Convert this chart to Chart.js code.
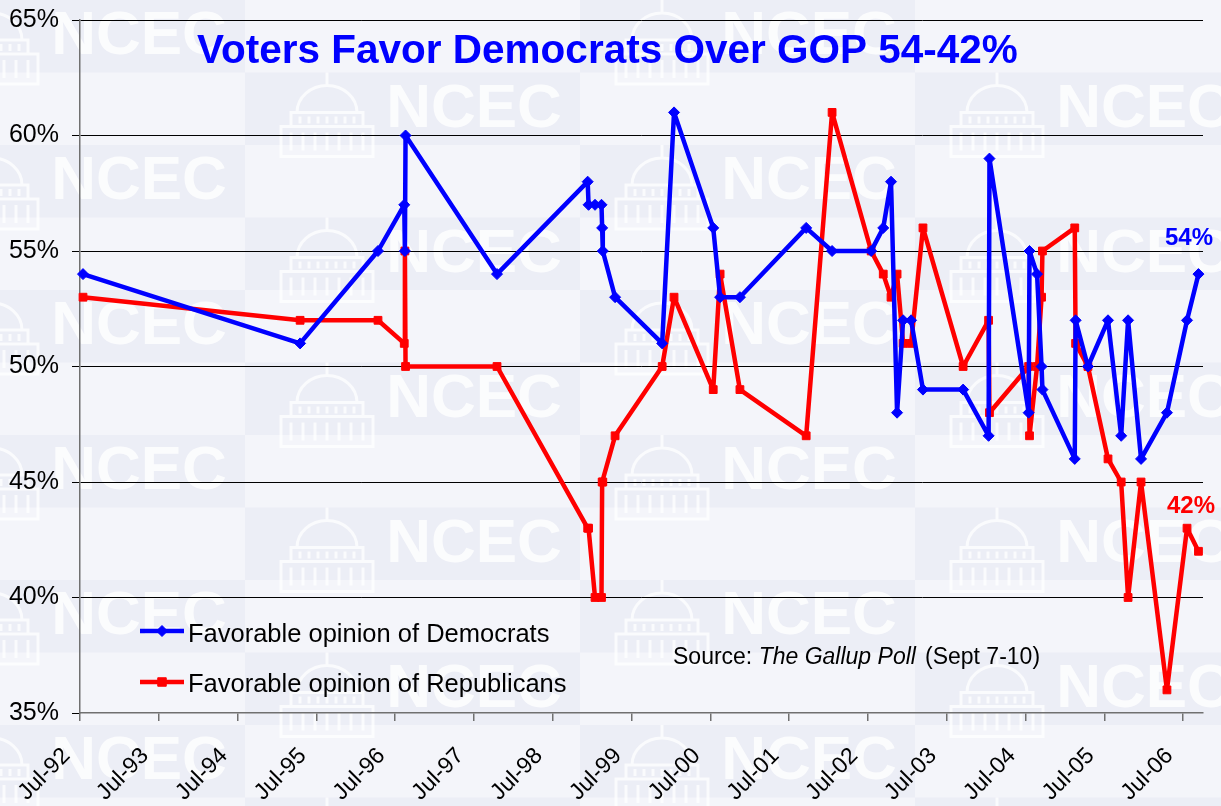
<!DOCTYPE html>
<html>
<head>
<meta charset="utf-8">
<title>Voters Favor Democrats Over GOP 54-42%</title>
<script src="https://cdn.jsdelivr.net/npm/chart.js@4.4.1/dist/chart.umd.min.js"></script>
<style>
  html, body { margin: 0; padding: 0; background: #f4f5fa; }
  #wrap { width: 1221px; height: 806px; }
</style>
</head>
<body>
<div id="wrap"><canvas id="pollChart" width="1221" height="806"></canvas></div>
<script>
// Datas das pesquisas Gallup (as duas séries usam as mesmas datas)
const pollDates = [
    '1992-07-15', '1995-04-17', '1996-04-12', '1996-08-12', '1996-08-15', '1996-08-18', '1997-10-16',
    '1998-12-10', '1998-12-14', '1999-01-13', '1999-02-12', '1999-02-15', '1999-02-18', '1999-04-16',
    '1999-11-20', '2000-01-14', '2000-07-14', '2000-08-15', '2000-11-15', '2001-09-18', '2002-01-16',
    '2002-07-16', '2002-09-10', '2002-10-16', '2002-11-13', '2002-12-11', '2003-01-17', '2003-03-13',
    '2003-09-15', '2004-01-11', '2004-01-15', '2004-07-15', '2004-07-19', '2004-08-23', '2004-09-13',
    '2004-09-17', '2005-02-14', '2005-02-18', '2005-04-16', '2005-07-18', '2005-09-17', '2005-10-19',
    '2005-12-18', '2006-04-17', '2006-07-19', '2006-09-10'
];

// Opinião favorável dos democratas (%)
const demValues = [
    54, 51, 55, 57, 55, 60, 54,
    58, 57, 57, 57, 56, 55, 53,
    51, 61, 56, 53, 53, 56, 55,
    55, 56, 58, 48, 52, 52, 49,
    49, 47, 59, 48, 55, 54, 50,
    49, 46, 52, 50, 52, 47, 52,
    46, 48, 52, 54
];

// Opinião favorável dos republicanos (%)
const repValues = [
    53, 52, 52, 51, 55, 50, 50,
    43, 43, 40, 40, 45, 45, 47,
    50, 53, 49, 54, 49, 47, 61,
    55, 54, 53, 54, 51, 51, 56,
    50, 52, 48, 50, 47, 50, 53,
    55, 56, 51, 50, 46, 45, 40,
    45, 36, 43, 42
];

// Marcas do eixo X (julho de cada ano)
const tickDates = [
    '1992-07-01', '1993-07-01', '1994-07-01', '1995-07-01', '1996-07-01',
    '1997-07-01', '1998-07-01', '1999-07-01', '2000-07-01', '2001-07-01',
    '2002-07-01', '2003-07-01', '2004-07-01', '2005-07-01', '2006-07-01'
];
const tickLabels = [
    'Jul-92', 'Jul-93', 'Jul-94', 'Jul-95', 'Jul-96',
    'Jul-97', 'Jul-98', 'Jul-99', 'Jul-00', 'Jul-01',
    'Jul-02', 'Jul-03', 'Jul-04', 'Jul-05', 'Jul-06'
];
const yTicks = [35, 40, 45, 50, 55, 60, 65];

const FONT = '"Liberation Sans", Arial, sans-serif';
const BLUE = '#0000ff';
const RED = '#ff0000';

// converte 'AAAA-MM-DD' em ano decimal
function toYear(s) {
    const [y, m, d] = s.split('-').map(Number);
    const start = Date.UTC(y, 0, 1), end = Date.UTC(y + 1, 0, 1);
    return y + (Date.UTC(y, m - 1, d) - start) / (end - start);
}

const tickValues = tickDates.map(toYear);

// pequeno capitólio da marca d'água
function drawDome(ctx, cx, top) {
    ctx.beginPath();
    ctx.moveTo(cx, top);
    ctx.lineTo(cx, top + 12);
    ctx.moveTo(cx + 30, top + 40);
    ctx.ellipse(cx, top + 40, 30, 27, 0, 0, Math.PI, true);
    ctx.rect(cx - 36, top + 40, 72, 14);
    ctx.rect(cx - 46, top + 54, 92, 30);
    for (let i = -3; i <= 3; i++) {
        ctx.moveTo(cx + i * 9, top + 44);
        ctx.lineTo(cx + i * 9, top + 51);
        ctx.moveTo(cx + i * 12, top + 60);
        ctx.lineTo(cx + i * 12, top + 78);
    }
    ctx.stroke();
}

// fundo com a marca d'água NCEC
const backdrop = {
    id: 'backdrop',
    beforeDraw(chart) {
        const ctx = chart.ctx;
        ctx.save();
        ctx.fillStyle = '#f4f5fa';
        ctx.fillRect(0, 0, chart.width, chart.height);
        ctx.font = 'bold 62px ' + FONT;
        ctx.textAlign = 'center';
        ctx.textBaseline = 'middle';
        ctx.lineWidth = 3;
        for (let c = 0; c < 5; c++) {
            const x0 = -90 + 335 * c;
            for (let r = 0; r < 12; r++) {
                const y0 = r * 72.5;
                if ((r + c) % 2 === 0) {
                    ctx.fillStyle = '#eceef6';
                    ctx.fillRect(x0, y0, 335, 72.5);
                    ctx.fillStyle = 'rgba(255,255,255,0.8)';
                    ctx.fillText('NCEC', x0 + 229, y0 + 37);
                    ctx.strokeStyle = 'rgba(255,255,255,0.75)';
                    drawDome(ctx, x0 + 82, y0);
                }
            }
        }
        ctx.restore();
    }
};

// título, legenda, fonte e rótulos finais
const overlay = {
    id: 'overlay',
    afterDraw(chart) {
        const ctx = chart.ctx;
        ctx.save();
        ctx.textBaseline = 'alphabetic';
        ctx.textAlign = 'left';

        ctx.fillStyle = BLUE;
        ctx.font = 'bold 40.5px ' + FONT;
        ctx.fillText('Voters Favor Democrats Over GOP 54-42%', 197, 63);

        ctx.font = 'bold 24px ' + FONT;
        ctx.fillStyle = BLUE;
        ctx.fillText('54%', 1165, 245);
        ctx.fillStyle = RED;
        ctx.fillText('42%', 1167, 513);

        // legenda
        const rows = [
            { label: 'Favorable opinion of Democrats', color: BLUE, style: 'rectRot', y: 631, base: 642 },
            { label: 'Favorable opinion of Republicans', color: RED, style: 'rect', y: 682, base: 692 }
        ];
        rows.forEach(row => {
            ctx.strokeStyle = row.color;
            ctx.lineWidth = 4.5;
            ctx.beginPath();
            ctx.moveTo(140, row.y);
            ctx.lineTo(184, row.y);
            ctx.stroke();
            ctx.fillStyle = row.color;
            ctx.lineWidth = 1;
            Chart.helpers.drawPoint(ctx, { pointStyle: row.style, radius: row.style === 'rect' ? 6 : 5.5, borderWidth: 1 }, 162, row.y);
            ctx.fillStyle = '#000';
            ctx.font = '25.5px ' + FONT;
            ctx.fillText(row.label, 188, row.base);
        });

        // fonte
        ctx.fillStyle = '#000';
        ctx.font = '23px ' + FONT;
        ctx.fillText('Source: ', 673, 664);
        const w = ctx.measureText('Source: ').width;
        ctx.font = 'italic 23px ' + FONT;
        ctx.fillText('The Gallup Poll', 673 + w, 664);
        ctx.font = '23px ' + FONT;
        ctx.fillText('(Sept 7-10)', 925, 664);
        ctx.restore();
    }
};

function buildSeries(values) {
    return values.map((v, i) => ({ x: toYear(pollDates[i]), y: v }));
}

const ctx = document.getElementById('pollChart').getContext('2d');
const pollChart = new Chart(ctx, {
    type: 'line',
    data: {
        datasets: [
            {
                label: 'Favorable opinion of Democrats',
                data: buildSeries(demValues),
                borderColor: BLUE,
                backgroundColor: BLUE,
                borderWidth: 4.5,
                borderJoinStyle: 'bevel',
                pointStyle: 'rectRot',
                pointRadius: 5.5,
                pointBorderWidth: 1,
                tension: 0,
                clip: false
            },
            {
                label: 'Favorable opinion of Republicans',
                data: buildSeries(repValues),
                borderColor: RED,
                backgroundColor: RED,
                borderWidth: 4.5,
                borderJoinStyle: 'bevel',
                pointStyle: 'rect',
                pointRadius: 5.5,
                pointBorderWidth: 1,
                tension: 0,
                clip: false
            }
        ]
    },
    options: {
        responsive: false,
        animation: false,
        devicePixelRatio: 1,
        layout: { padding: { left: 0, right: 18, top: 20, bottom: 0 } },
        plugins: {
            legend: { display: false },
            title: { display: false },
            tooltip: { enabled: false }
        },
        scales: {
            x: {
                type: 'linear',
                min: toYear('1992-07-01'),
                max: toYear('2006-10-01'),
                afterBuildTicks(axis) {
                    axis.ticks = tickValues.map(v => ({ value: v }));
                },
                afterFit(axis) {
                    axis.height = 93;
                    axis.paddingLeft = 0;
                    axis.paddingRight = 0;
                },
                ticks: {
                    autoSkip: false,
                    minRotation: 45,
                    maxRotation: 45,
                    padding: 8,
                    color: '#000',
                    font: { family: FONT, size: 23 },
                    callback: (v, i) => tickLabels[i] + '   '
                },
                grid: { drawOnChartArea: false, tickLength: 8, color: '#707070', lineWidth: 1.5 },
                border: { color: '#707070', width: 1.5 }
            },
            y: {
                min: 35,
                max: 65,
                afterBuildTicks(axis) {
                    axis.ticks = yTicks.map(v => ({ value: v }));
                },
                afterFit(axis) {
                    axis.width = 80;
                    axis.paddingTop = 0;
                    axis.paddingBottom = 0;
                },
                ticks: {
                    padding: 13,
                    color: '#000',
                    font: { family: FONT, size: 25 },
                    callback: v => v + '%'
                },
                grid: {
                    color: c => (c.tick && c.tick.value === 35) ? 'rgba(0,0,0,0)' : '#000',
                    tickColor: '#000',
                    lineWidth: 1,
                    tickLength: 8
                },
                border: { color: '#707070', width: 1.5 }
            }
        }
    },
    plugins: [backdrop, overlay]
});
</script>
</body>
</html>
